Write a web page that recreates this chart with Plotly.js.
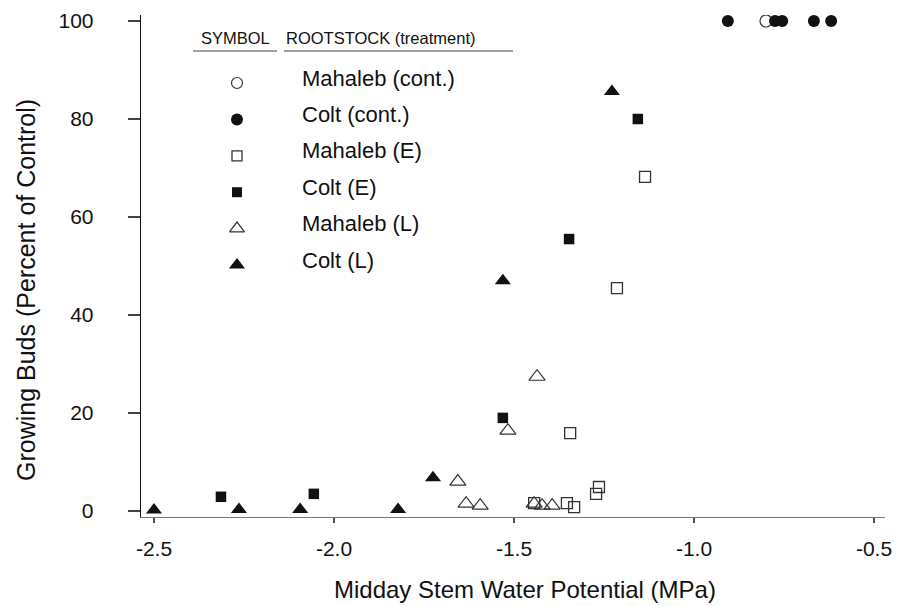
<!DOCTYPE html>
<html>
<head>
<meta charset="utf-8">
<script src="https://cdn.plot.ly/plotly-3.0.1.min.js"></script>
<style>html,body{margin:0;padding:0;background:#fff;}#chart{width:909px;height:606px;}</style>
</head>
<body>
<div id="chart"></div>
<script>
// ---- data ----
const seriesNames = ["Mahaleb (cont.)", "Colt (cont.)", "Mahaleb (E)", "Colt (E)", "Mahaleb (L)", "Colt (L)"];

const mahalebContX = [-0.800];
const mahalebContY = [100];

const coltContX = [-0.906, -0.775, -0.755, -0.667, -0.619];
const coltContY = [100, 100, 100, 100, 100];

const mahalebEX = [-1.136, -1.214, -1.344, -1.264, -1.272, -1.353, -1.333, -1.444];
const mahalebEY = [68.2, 45.5, 15.9, 4.9, 3.5, 1.6, 0.8, 1.6];

const coltEX = [-2.314, -2.056, -1.531, -1.347, -1.156];
const coltEY = [2.9, 3.5, 19.0, 55.5, 80.0];

const mahalebLX = [-1.436, -1.517, -1.656, -1.633, -1.594, -1.444, -1.422, -1.394];
const mahalebLY = [27.4, 16.4, 6.0, 1.5, 1.1, 1.5, 1.1, 1.1];

const coltLX = [-2.500, -2.264, -2.094, -1.822, -1.725, -1.531, -1.228];
const coltLY = [0.2, 0.3, 0.3, 0.3, 6.8, 47.0, 85.6];

const xTickVals = [-2.5, -2.0, -1.5, -1.0, -0.5];
const xTickText = ["-2.5", "-2.0", "-1.5", "-1.0", "-0.5"];
const yTickVals = [0, 20, 40, 60, 80, 100];

// ---- styles ----
const INK = "#111";
const OPEN = "#333";
const styles = [
  {symbol: "circle-open", size: 12, color: OPEN, lw: 1.2, lsize: 11},
  {symbol: "circle", size: 12, color: INK, lw: 0, lsize: 12},
  {symbol: "square-open", size: 11, color: OPEN, lw: 1.3, lsize: 10},
  {symbol: "square", size: 10.5, color: INK, lw: 0, lsize: 10},
  {symbol: "triangle-up-open", size: 14, color: OPEN, lw: 1.2, lsize: 13},
  {symbol: "triangle-up", size: 14, color: INK, lw: 0, lsize: 14}
];
const xs = [mahalebContX, coltContX, mahalebEX, coltEX, mahalebLX, coltLX];
const ys = [mahalebContY, coltContY, mahalebEY, coltEY, mahalebLY, coltLY];

// plot area in pixels
const L = 141, R = 885, T = 15, B = 517;
const W = R - L, H = B - T;
const PX = p => (p - L) / W;
const PY = p => (B - p) / H;

const FONT = "Liberation Sans, Arial, Helvetica, sans-serif";

const traces = [];
[0, 1, 2, 3, 4, 5].forEach(i => {
  const s = styles[i];
  traces.push({
    type: "scatter", mode: "markers", name: seriesNames[i],
    x: xs[i], y: ys[i], showlegend: false, hoverinfo: "x+y+name",
    marker: {symbol: s.symbol, size: s.size, color: s.color,
             line: {color: s.color, width: s.lw}}
  });
});

// legend symbols drawn on an overlay axis in plot-area fractions
const legSymX = 237, legSymY0 = 83, legTextX = 300, legTextY0 = 78, legStep = 36.4;
seriesNames.forEach((nm, i) => {
  const s = styles[i];
  traces.push({
    type: "scatter", mode: "markers", xaxis: "x2", yaxis: "y2",
    x: [PX(legSymX)], y: [PY(legSymY0 + legStep * i)],
    showlegend: false, hoverinfo: "skip",
    marker: {symbol: s.symbol, size: s.lsize, color: s.color,
             line: {color: s.color, width: s.lw}}
  });
});

const annotations = [];
seriesNames.forEach((nm, i) => {
  annotations.push({
    xref: "paper", yref: "paper", x: PX(legTextX), y: PY(legTextY0 + legStep * i),
    xanchor: "left", yanchor: "middle", showarrow: false, text: nm,
    font: {family: FONT, size: 22, color: INK}
  });
});
annotations.push({xref: "paper", yref: "paper", x: PX(199), y: PY(38), xanchor: "left", yanchor: "middle",
  showarrow: false, text: "SYMBOL", font: {family: FONT, size: 16.5, color: INK}});
annotations.push({xref: "paper", yref: "paper", x: PX(284), y: PY(38), xanchor: "left", yanchor: "middle",
  showarrow: false, text: "ROOTSTOCK (treatment)", font: {family: FONT, size: 16.5, color: INK}});
// axis titles
annotations.push({xref: "paper", yref: "paper", x: PX(525), y: PY(589), xanchor: "center", yanchor: "middle",
  showarrow: false, text: "Midday Stem Water Potential (MPa)", font: {family: FONT, size: 24, color: INK}});
annotations.push({xref: "paper", yref: "paper", x: PX(26), y: PY(290), xanchor: "center", yanchor: "middle",
  showarrow: false, textangle: -90, text: "Growing Buds (Percent of Control)", font: {family: FONT, size: 25, color: INK}});

const shapes = [
  {type: "line", xref: "paper", yref: "paper", x0: PX(193), x1: PX(277), y0: PY(51), y1: PY(51), line: {color: "#444", width: 1}},
  {type: "line", xref: "paper", yref: "paper", x0: PX(284), x1: PX(513), y0: PY(51), y1: PY(51), line: {color: "#444", width: 1}}
];

const layout = {
  width: 909, height: 606,
  margin: {l: L, r: 909 - R, t: T, b: 606 - B, pad: 0},
  paper_bgcolor: "#fff", plot_bgcolor: "#fff",
  showlegend: false,
  font: {family: FONT, color: INK},
  xaxis: {
    range: [-2.5 + (L - 154) / 360, -0.5 + (R - 874) / 360],
    tickvals: xTickVals, ticktext: xTickText,
    showgrid: false, zeroline: false, showline: true, linecolor: "#777", linewidth: 1.2,
    ticks: "outside", ticklen: 5, tickcolor: "#555", tickwidth: 1.2,
    tickfont: {family: FONT, size: 21, color: INK}, ticklabelstandoff: 8
  },
  yaxis: {
    range: [(511 - B) / 4.9, (511 - T) / 4.9],
    tickvals: yTickVals,
    showgrid: false, zeroline: false, showline: true, linecolor: "#111", linewidth: 1.3,
    ticks: "outside", ticklen: 12, tickcolor: "#444", tickwidth: 1.2,
    tickfont: {family: FONT, size: 21, color: INK}, ticklabelstandoff: 30
  },
  xaxis2: {overlaying: "x", range: [0, 1], visible: false, fixedrange: true},
  yaxis2: {overlaying: "y", range: [0, 1], visible: false, fixedrange: true},
  annotations: annotations,
  shapes: shapes
};

Plotly.newPlot("chart", traces, layout, {displayModeBar: false, staticPlot: true});
</script>
</body>
</html>
